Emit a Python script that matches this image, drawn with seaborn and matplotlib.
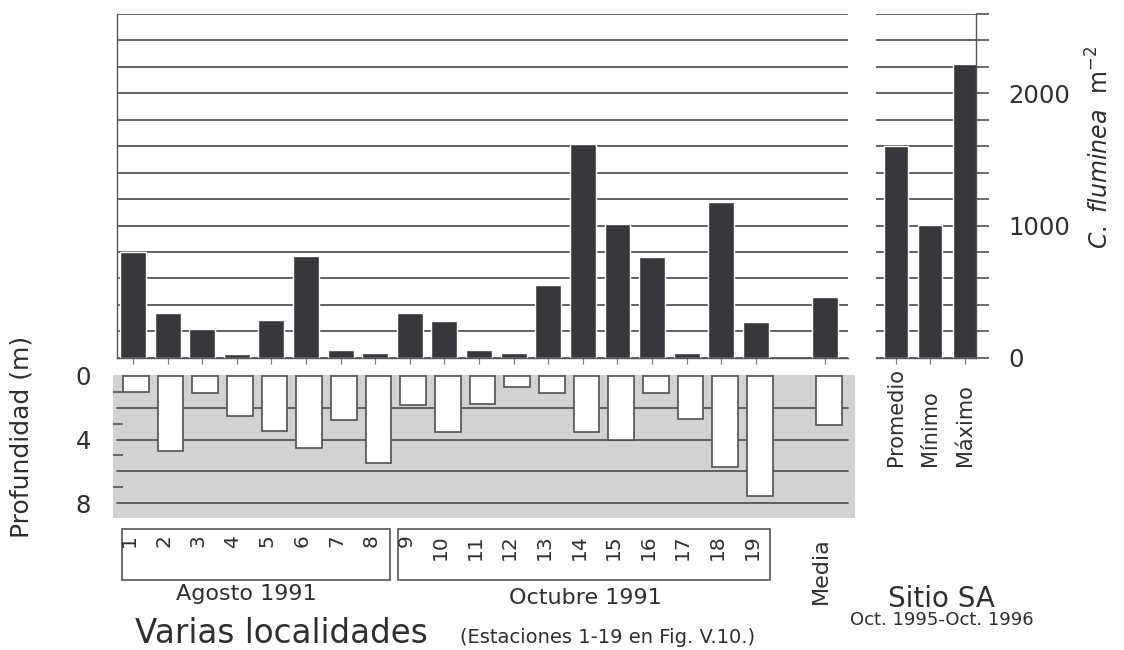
import matplotlib
matplotlib.use("Agg")
import matplotlib.pyplot as plt
import matplotlib.transforms as mtransforms
from matplotlib.patches import Rectangle
import pandas as pd
import seaborn as sns

# densities (ind. m-2)
stations = [str(i) for i in range(1, 20)]
density = [800, 340, 220, 30, 285, 770, 62, 38, 340, 280, 58, 38,
           550, 1620, 1015, 760, 33, 1180, 268]
density_mean = 460
# depth (m) of each station
depth = [1.0, 4.7, 1.05, 2.5, 3.45, 4.5, 2.8, 5.5, 1.8, 3.5, 1.75, 0.7,
         1.05, 3.5, 4.0, 1.05, 2.7, 5.7, 7.55]
depth_mean = 3.1
# site SA, Oct. 1995 - Oct. 1996
sa_labels = ["Promedio", "Mínimo", "Máximo"]
sa_density = [1605, 1005, 2220]

W, H = 1124, 650
BAR = "#38383c"
GRID = "#555555"
TXT = "#2e2e2e"


def fx(px):
    return px / W


def fy(py):
    return 1 - py / H


sns.set_theme(style="white")
plt.rcParams["font.family"] = ["DejaVu Sans"]
plt.rcParams["mathtext.fontset"] = "custom"
plt.rcParams["mathtext.rm"] = "DejaVu Sans"
plt.rcParams["mathtext.it"] = "DejaVu Sans:italic"

order = stations + [" ", "Media"]
df_top = pd.DataFrame({"estacion": stations + ["Media"],
                       "densidad": density + [density_mean]})
df_dep = pd.DataFrame({"estacion": stations + ["Media"],
                       "prof": depth + [depth_mean]})
df_sa = pd.DataFrame({"medida": sa_labels, "densidad": sa_density})

fig = plt.figure(figsize=(W / 100, H / 100), dpi=100)
ax_top = fig.add_axes([fx(117), fy(357.7), (848 - 117) / W, (357.7 - 14) / H])
ax_sa = fig.add_axes([fx(876), fy(357.7), 100 / W, (357.7 - 14) / H])
ax_dep = fig.add_axes([fx(113), fy(518), 742 / W, 143 / H])

# --- upper left: density per station ---
sns.barplot(data=df_top, x="estacion", y="densidad", order=order,
            color=BAR, saturation=1, width=0.75, errorbar=None, ax=ax_top)
ax_top.set_xlim(-0.46, 20.66)
ax_top.set_ylim(0, 2600)
ax_top.set_yticks(range(0, 2601, 200))
ax_top.yaxis.grid(True, color=GRID, lw=1.3)
ax_top.set_axisbelow(True)
ax_top.tick_params(axis="y", length=0, labelleft=False)
ax_top.set_xticks([i for i, o in enumerate(order) if o.strip()])
ax_top.tick_params(axis="x", length=4, width=0.8, color="#777777",
                   bottom=True, labelbottom=False)
ax_top.set_xlabel("")
ax_top.set_ylabel("")
for s in ["top", "right"]:
    ax_top.spines[s].set_visible(False)
for s in ["left", "bottom"]:
    ax_top.spines[s].set_color(GRID)
    ax_top.spines[s].set_linewidth(1.0)

# --- upper right: site SA ---
sns.barplot(data=df_sa, x="medida", y="densidad", order=sa_labels,
            color=BAR, saturation=1, width=0.7, errorbar=None, ax=ax_sa)
ax_sa.set_xlim(-0.57, 2.33)
ax_sa.set_ylim(0, 2600)
ax_sa.set_yticks(range(0, 2601, 200))
ax_sa.set_yticklabels([str(v) if v % 1000 == 0 else "" for v in range(0, 2601, 200)])
ax_sa.yaxis.grid(True, color=GRID, lw=1.3)
ax_sa.set_axisbelow(True)
ax_sa.yaxis.tick_right()
ax_sa.tick_params(axis="y", length=9, width=1.2, color=GRID, pad=14,
                  labelsize=17.5, labelcolor=TXT, right=True, left=False)
ax_sa.tick_params(axis="x", length=4, width=0.8, color="#777777",
                  bottom=True, labelbottom=False)
ax_sa.set_xlabel("")
ax_sa.set_ylabel("")
for s in ["top", "left"]:
    ax_sa.spines[s].set_visible(False)
for s in ["right", "bottom"]:
    ax_sa.spines[s].set_color(GRID)
    ax_sa.spines[s].set_linewidth(1.0)

# --- lower: depth ---
ax_dep.set_facecolor("#d2d2d2")
sns.barplot(data=df_dep, x="estacion", y="prof", order=order,
            color="white", saturation=1, width=0.74, errorbar=None,
            edgecolor="#505050", linewidth=1.2, ax=ax_dep)
ax_dep.set_xlim(-0.66, 20.75)
ax_dep.set_ylim(8.93, -0.06)
for d in [2, 4, 6, 8]:
    ax_dep.axhline(d, xmin=4 / 742, xmax=735 / 742, color=GRID, lw=1.3, zorder=0.8)
ax_dep.set_yticks([0, 4, 8])
ax_dep.set_yticks([1, 3, 5, 7], minor=True)
ax_dep.tick_params(axis="y", which="major", length=0, pad=16,
                   labelsize=17.5, labelcolor=TXT)
ax_dep.tick_params(axis="y", which="minor", direction="in", length=7,
                   width=1.2, color=GRID, left=True)
ax_dep.set_xticks([])
ax_dep.set_xlabel("")
ax_dep.set_ylabel("")
for s in ax_dep.spines.values():
    s.set_visible(False)

# --- texts and boxes below ---
fig.text(fx(22), fy(437), "Profundidad (m)", rotation=90, ha="center",
         va="center", fontsize=18, color=TXT)
fig.text(fx(1100), fy(147), r"$\mathit{C.\ fluminea}\ \ \mathrm{m}^{-2}$",
         rotation=90, ha="center", va="center", fontsize=17, color=TXT)

fig.patches.append(Rectangle((fx(122), fy(580)), (390 - 122) / W, 51 / H,
                             transform=fig.transFigure, fill=False,
                             edgecolor="#555555", lw=1.2))
fig.patches.append(Rectangle((fx(398), fy(580)), (770 - 398) / W, 51 / H,
                             transform=fig.transFigure, fill=False,
                             edgecolor="#555555", lw=1.2))

shift = mtransforms.ScaledTranslation(-4 / 100, 0, fig.dpi_scale_trans)
tr_top = mtransforms.blended_transform_factory(ax_top.transData, fig.transFigure) + shift
for i, lab in enumerate(stations):
    fig.text(i, fy(534), lab, rotation=90, ha="center", va="top",
             fontsize=14.5, color=TXT, transform=tr_top)
fig.text(order.index("Media"), fy(604), "Media", rotation=90, ha="center",
         va="bottom", fontsize=16, color=TXT, transform=tr_top)

tr_sa = mtransforms.blended_transform_factory(ax_sa.transData, fig.transFigure)
for i, lab in enumerate(sa_labels):
    fig.text(i, fy(466), lab, rotation=90, ha="center", va="bottom",
             fontsize=15, color=TXT, transform=tr_sa)

fig.text(fx(246), fy(594), "Agosto 1991", ha="center", va="center",
         fontsize=16, color=TXT)
fig.text(fx(585), fy(598), "Octubre 1991", ha="center", va="center",
         fontsize=16, color=TXT)
fig.text(fx(135), fy(643), "Varias localidades", ha="left", va="baseline",
         fontsize=23.5, color=TXT)
fig.text(fx(460), fy(643), "(Estaciones 1-19 en Fig. V.10.)", ha="left",
         va="baseline", fontsize=14, color=TXT)
fig.text(fx(941), fy(599), "Sitio SA", ha="center", va="center",
         fontsize=20, color=TXT)
fig.text(fx(942), fy(620), "Oct. 1995-Oct. 1996", ha="center", va="center",
         fontsize=13, color=TXT)

fig.savefig("out.png", dpi=100)
